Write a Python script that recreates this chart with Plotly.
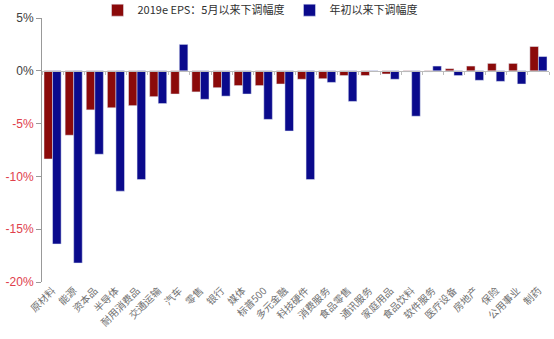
import plotly.graph_objects as go

categories = ["原材料", "能源", "资本品", "半导体", "耐用消费品", "交通运输", "汽车", "零售",
              "银行", "媒体", "标普500", "多元金融", "科技硬件", "消费服务", "食品零售", "通讯服务",
              "家庭用品", "食品饮料", "软件服务", "医疗设备", "房地产", "保险", "公用事业", "制药"]
eps_since_may = [-8.35, -6.1, -3.7, -3.5, -3.3, -2.45, -2.2, -2.0,
                 -1.6, -1.4, -1.4, -1.25, -0.8, -0.75, -0.45, -0.45,
                 -0.3, -0.1, -0.1, 0.2, 0.45, 0.7, 0.7, 2.3]
eps_since_jan = [-16.4, -18.2, -7.9, -11.4, -10.3, -3.1, 2.5, -2.7,
                 -2.4, -2.2, -4.6, -5.7, -10.3, -1.1, -2.9, -0.05,
                 -0.8, -4.3, 0.45, -0.45, -0.9, -1.0, -1.25, 1.35]
y_ticks = [5, 0, -5, -10, -15, -20]
series_names = ["2019e EPS：5月以来下调幅度", "年初以来下调幅度"]

RED = "#8B0A0A"
BLUE = "#0A0A8C"

def tick_label(v):
    color = "#E0404C" if v < 0 else "#404040"
    return f"<span style='color:{color}'>{v}%</span>"

fig = go.Figure()
fig.add_trace(go.Bar(x=categories, y=eps_since_may, name=series_names[0], marker_color=RED))
fig.add_trace(go.Bar(x=categories, y=eps_since_jan, name=series_names[1], marker_color=BLUE))

# invisible trace to bind the zero-line axis
fig.add_trace(go.Scatter(x=categories, y=[0] * len(categories), xaxis="x2", mode="lines",
                         line=dict(width=0), showlegend=False, hoverinfo="skip"))

y_min, y_max = -20, 5
zero_pos = (0 - y_min) / (y_max - y_min)

fig.update_layout(
    width=554, height=339,
    margin=dict(l=42, r=5, t=18, b=57, autoexpand=False),
    paper_bgcolor="white", plot_bgcolor="white",
    barmode="group", bargap=0.19, bargroupgap=0,
    font=dict(family="Noto Sans CJK SC, sans-serif", color="#404040"),
    legend=dict(orientation="h", x=0.43, xanchor="center", y=0.97, yanchor="middle",
                yref="container",
                font=dict(size=11, color="#303030"), itemwidth=30,
                traceorder="normal", bgcolor="rgba(0,0,0,0)"),
    xaxis=dict(type="category", tickangle=-45, showline=False, ticks="",
               tickfont=dict(size=10, color="#707070", family="Noto Sans CJK SC, sans-serif"),
               showgrid=False, zeroline=False, range=[-0.5, len(categories) - 0.5],
               automargin=False),
    xaxis2=dict(type="category", overlaying="x", anchor="free", position=zero_pos,
                matches="x", showline=True, linecolor="#BBBBBB", linewidth=1,
                ticks="outside", ticklen=3, tickcolor="#BBBBBB", tickson="boundaries",
                showticklabels=False, showgrid=False, zeroline=False, automargin=False),
    yaxis=dict(range=[y_min, y_max], tickvals=y_ticks,
               ticktext=[tick_label(v) for v in y_ticks],
               showline=True, linecolor="#999999", linewidth=1,
               ticks="outside", ticklen=5, tickcolor="#999999",
               showgrid=False, zeroline=False, automargin=False,
               tickfont=dict(size=12, family="Liberation Sans, Arial, sans-serif")),
)

fig.write_html("out.html")
